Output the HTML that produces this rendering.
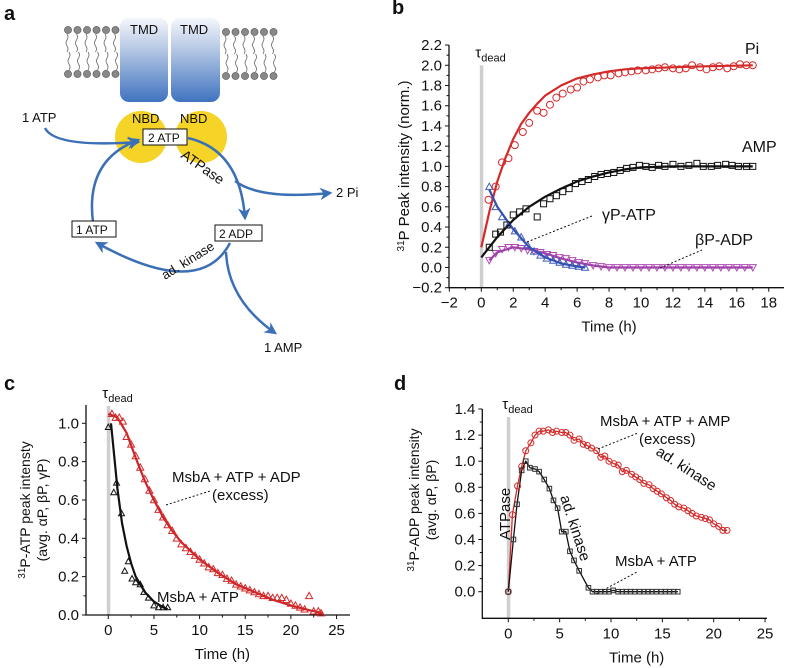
<!DOCTYPE html>
<html><head><meta charset="utf-8"><style>
html,body{margin:0;padding:0;background:#fff}
svg{display:block}
text{font-family:"Liberation Sans",sans-serif;fill:#111}
</style></head><body>
<svg id="fig" width="788" height="668" viewBox="0 0 788 668" xmlns="http://www.w3.org/2000/svg">
<defs>
<linearGradient id="tmd" x1="0" y1="0" x2="0" y2="1"><stop offset="0" stop-color="#f4f6fb"/><stop offset="0.35" stop-color="#b9cbe6"/><stop offset="1" stop-color="#3f73bf"/></linearGradient>
<marker id="ah" viewBox="0 0 10 10" refX="8" refY="5" markerWidth="5" markerHeight="5" orient="auto"><path d="M0,0 L10,5 L0,10 L3,5 z" fill="#3b6fb6"/></marker>
</defs>
<g>
<text x="4" y="20" font-size="20" font-weight="bold">a</text>
<g id="lipids"></g>
<rect x="120" y="18" width="48" height="84" rx="9" fill="url(#tmd)"/>
<rect x="171" y="18" width="49" height="84" rx="9" fill="url(#tmd)"/>
<text x="130" y="34" font-size="13">TMD</text>
<text x="180" y="34" font-size="13">TMD</text>
<circle cx="141" cy="137" r="26" fill="#f5d327"/>
<circle cx="201" cy="137" r="26" fill="#f5d327"/>
<text x="132" y="123" font-size="13">NBD</text>
<text x="180" y="123" font-size="13">NBD</text>
<g fill="none" stroke="#3b6fb6" stroke-width="2.5">
<path d="M45,128 Q55,148 138,142" marker-end="url(#ah)"/>
<path d="M93,222 Q85,160 138,140" marker-end="url(#ah)"/>
<path d="M188,138 Q240,150 245,218" marker-end="url(#ah)"/>
<path d="M235,181 Q260,200 330,193" marker-end="url(#ah)"/>
<path d="M230,243 Q200,300 97,243" marker-end="url(#ah)"/>
<path d="M226,252 Q228,300 275,333" marker-end="url(#ah)"/>
</g>
<rect x="143" y="129" width="44" height="16" fill="#fff" stroke="#111"/>
<text x="148" y="142" font-size="12">2 ATP</text>
<rect x="72" y="221" width="44" height="16" fill="#fff" stroke="#111"/>
<text x="76" y="234" font-size="12">1 ATP</text>
<rect x="215" y="225" width="47" height="16" fill="#fff" stroke="#111"/>
<text x="219" y="238" font-size="12">2 ADP</text>
<text x="22" y="122" font-size="13">1 ATP</text>
<text x="336" y="197" font-size="13">2 Pi</text>
<text x="264" y="352" font-size="13">1 AMP</text>
<text transform="translate(180,157) rotate(35)" font-size="14">ATPase</text>
<text transform="translate(165,280) rotate(-32)" font-size="13">ad. kinase</text>
</g>
<g id="pb"><text x="392" y="14" font-size="20" font-weight="bold">b</text></g>
<g id="pc"><text x="4" y="390" font-size="20" font-weight="bold">c</text></g>
<g id="pd"><text x="394" y="390" font-size="20" font-weight="bold">d</text></g>
</svg>
<script>
const piT=[0.45,0.9,1.3,1.7,2.1,2.6,3.0,3.5,3.9,4.3,4.7,5.1,5.6,6.0,6.4,6.8,7.3,7.7,8.1,8.6,9.0,9.4,9.8,10.3,10.7,11.1,11.5,12,12.4,12.8,13.2,13.7,14.1,14.5,14.9,15.4,15.8,16.2,16.6,17];
const piV=[0.67,0.80,1.04,1.08,1.21,1.34,1.43,1.55,1.53,1.61,1.68,1.72,1.76,1.78,1.84,1.86,1.88,1.90,1.90,1.92,1.93,1.94,1.95,1.95,1.96,1.97,1.98,1.97,1.96,1.97,2.00,1.98,1.96,1.98,1.99,1.97,1.99,2.01,2.00,2.00];
const piFitT=[0,0.5,1,1.5,2,2.5,3,3.5,4,5,6,7,8,9,10,12,14,17];
const piFitV=[0.2,0.55,0.85,1.08,1.27,1.42,1.53,1.62,1.70,1.80,1.87,1.91,1.94,1.96,1.97,1.98,1.99,2.0];
const ampT=[0.5,0.9,1.2,1.6,2.0,2.4,2.8,3.5,3.9,4.3,4.7,5.1,5.5,5.9,6.3,6.7,7.1,7.5,7.9,8.3,8.7,9.1,9.5,9.9,10.3,10.7,11.1,11.5,12,12.5,13,13.5,13.9,14.4,14.8,15.3,15.7,16.1,16.6,17];
const ampV=[0.2,0.33,0.35,0.42,0.52,0.55,0.58,0.50,0.63,0.68,0.71,0.75,0.78,0.83,0.85,0.87,0.90,0.92,0.93,0.94,0.96,0.98,0.99,1.01,1.0,0.99,1.01,1.0,1.02,1.0,1.01,1.03,1.0,1.0,1.01,1.02,1.01,1.0,1.0,1.0];
const ampFitT=[0,1,2,3,4,5,6,7,8,9,10,12,17];
const ampFitV=[0.1,0.3,0.47,0.6,0.7,0.78,0.85,0.9,0.94,0.97,0.99,1.0,1.0];
const gT=[0.5,0.9,1.3,1.7,2.1,2.5,2.9,3.3,3.7,4.1,4.5,4.9,5.3,5.7,6.1,6.5];
const gV=[0.8,0.6,0.5,0.42,0.36,0.3,0.22,0.16,0.12,0.09,0.07,0.05,0.03,0.02,0.01,0.0];
const gFitT=[0.5,1,2,3,4,5,6,6.5];
const gFitV=[0.77,0.6,0.38,0.2,0.1,0.04,0.01,0];
const bT=[0.5,0.9,1.3,1.7,2.1,2.5,2.9,3.3,3.7,4.1,4.5,4.9,5.3,5.7,6.1,6.5,7.0,7.5,8,8.5,9,9.5,10,10.5,11,11.5,12,12.5,13,13.5,14,14.5,15,15.5,16,16.5,17];
const bV=[0.07,0.14,0.18,0.2,0.2,0.19,0.17,0.16,0.15,0.13,0.12,0.1,0.09,0.07,0.05,0.04,0.02,0.01,0,0,0,0,0,0,0,0,0,0,0,0,0,0,0,0,0,0,0];
const bFitT=[0.5,1,2,3,4,5,6,7,8,17];
const bFitV=[0.07,0.15,0.2,0.18,0.14,0.09,0.05,0.02,0.0,0];
const bXTicks=[-2,0,2,4,6,8,10,12,14,16,18];
const bYTicks=[-0.2,0,0.2,0.4,0.6,0.8,1.0,1.2,1.4,1.6,1.8,2.0,2.2];
const cRedT=[0.4,0.8,1.2,1.6,2,2.5,3,3.5,4,4.5,5,5.5,6,6.5,7,7.5,8,8.5,9,9.5,10,10.5,11,11.5,12,12.5,13,13.5,14,14.5,15,15.5,16,16.5,17,17.5,18,18.5,19,19.5,20,20.5,21,21.5,22,22.5,23,23.3];
const cRedV=[1.05,1.03,1.03,1.01,0.93,0.89,0.83,0.77,0.71,0.65,0.6,0.55,0.51,0.47,0.44,0.40,0.37,0.35,0.33,0.31,0.29,0.27,0.25,0.24,0.22,0.21,0.19,0.18,0.16,0.15,0.14,0.13,0.12,0.11,0.10,0.10,0.09,0.09,0.09,0.08,0.06,0.05,0.04,0.03,0.10,0.02,0.02,0.01];
const cRedFitT=[0,1,2,3,4,5,6,7,8,10,12,14,16,18,20,22,23.5];
const cRedFitV=[1.05,1.03,0.95,0.82,0.7,0.6,0.51,0.44,0.38,0.29,0.22,0.16,0.12,0.08,0.05,0.025,0.01];
const cBlkT=[0,0.6,0.9,1.45,1.8,2.2,2.6,3.0,3.5,3.9,4.4,5.0,5.5,6.0,6.5];
const cBlkV=[0.98,0.64,0.69,0.53,0.23,0.28,0.19,0.17,0.16,0.12,0.09,0.05,0.04,0.04,0.04];
const cBlkFitT=[0.3,0.5,1,1.5,2,2.5,3,4,5,6,6.5];
const cBlkFitV=[1.0,0.9,0.66,0.48,0.36,0.27,0.2,0.12,0.07,0.04,0.03];
const cXTicks=[0,5,10,15,20,25];
const cYTicks=[0,0.2,0.4,0.6,0.8,1.0];
const dRedT=[0,0.4,0.9,1.3,1.7,2.2,2.6,3.0,3.4,3.9,4.3,4.7,5.2,5.6,6.0,6.4,6.9,7.3,7.7,8.1,8.6,9.0,9.4,9.8,10.3,10.7,11.1,11.5,12.0,12.4,12.8,13.2,13.7,14.1,14.5,14.9,15.4,15.8,16.2,16.6,17.1,17.5,17.9,18.3,18.8,19.2,19.6,20.0,20.5,20.9,21.3];
const dRedV=[0,0.59,0.81,0.96,1.08,1.14,1.2,1.23,1.23,1.24,1.22,1.23,1.22,1.22,1.2,1.16,1.17,1.13,1.12,1.10,1.08,1.03,1.04,1.0,0.98,0.97,0.92,0.93,0.90,0.88,0.86,0.83,0.82,0.79,0.77,0.75,0.72,0.70,0.67,0.65,0.64,0.62,0.60,0.58,0.57,0.56,0.55,0.52,0.50,0.47,0.47];
const dBlkT=[0,0.5,0.85,1.3,1.7,2.1,2.6,3.0,3.5,4.0,4.4,4.8,5.2,5.6,6.0,6.4,6.9,7.8,8.2,8.6,9.0,9.4,9.8,10.2,10.7,11.1,11.5,11.9,12.3,12.8,13.2,13.6,14.0,14.4,14.9,15.3,15.7,16.1,16.5];
const dBlkV=[0,0.4,0.67,0.93,1.0,0.95,0.94,0.92,0.86,0.79,0.7,0.64,0.46,0.46,0.31,0.24,0.16,0.03,0,0,0,0,0,0.01,0,0,0,0,0,0,0,0,0,0,0,0,0,0,0];
const dXTicks=[0,5,10,15,20,25];
const dYTicks=[0,0.2,0.4,0.6,0.8,1.0,1.2,1.4];

const NS='http://www.w3.org/2000/svg';
function mk(parent,tag,attrs,txt){const e=document.createElementNS(NS,tag);for(const k in attrs)e.setAttribute(k,attrs[k]);if(txt!==undefined)e.textContent=txt;parent.appendChild(e);return e;}
function fmt(v,d){return (v<0?'\u2212':'')+Math.abs(v).toFixed(d);}

const lip=document.getElementById('lipids');
[[68,30],[226,32]].forEach(([x0,y0])=>{for(let i=0;i<6;i++){const x=x0+i*9.5;
 [y0,y0+44].forEach(yy=>{const c=mk(lip,'circle',{cx:x,cy:yy,r:3.6,fill:'#888',stroke:'#555','stroke-width':0.6});
 
 });
 const p=mk(lip,'path',{d:`M${x-1},${y0+4} q2,3 0,6 q-2,3 0,6 q2,3 0,6 M${x+1},${y0+22} q2,3 0,6 q-2,3 0,6 q2,3 0,6`,stroke:'#666','stroke-width':0.8,fill:'none'});
 
 }});

function axes(g,o){
 const bar=mk(g,'rect',{x:o.sx(0)-1.5,y:o.deadTop,width:3.5,height:o.bottom-o.deadTop,fill:'#cfcfcf'});
 
 
 const ax=mk(g,'path',{d:`M${o.left},${o.top} V${o.bottom} H${o.right}`,stroke:'#111','stroke-width':1.3,fill:'none'});
 
 
 o.xt.forEach((t,i)=>{const x=o.sx(t);
  const tk=mk(g,'line',{x1:x,x2:x,y1:o.bottom,y2:o.bottom+4,stroke:'#111'});
  
  
  const lb=mk(g,'text',{x:x,y:o.bottom+20,'font-size':15,'text-anchor':'middle'},fmt(t,0));
  
  
  if(i<o.xt.length-1){const xm=o.sx(t+o.xm);const m=mk(g,'line',{x1:xm,x2:xm,y1:o.bottom,y2:o.bottom+2.5,stroke:'#111'});
  
  }
 });
 o.yt.forEach((v,i)=>{const y=o.sy(v);
  const tk=mk(g,'line',{x1:o.left-4,x2:o.left,y1:y,y2:y,stroke:'#111'});
  
  
  const lb=mk(g,'text',{x:o.left-7,y:y+5,'font-size':15,'text-anchor':'end'},fmt(v,1));
  
  
  if(i<o.yt.length-1){const ym=o.sy(v+0.1);const m=mk(g,'line',{x1:o.left-2.5,x2:o.left,y1:ym,y2:ym,stroke:'#111'});
  
  }
 });
 const tx=mk(g,'text',{x:(o.sx(o.xt[0])+o.sx(o.xt[o.xt.length-1]))/2,y:o.bottom+44,'font-size':15,'text-anchor':'middle'},'Time (h)');
 
 
 const td=mk(g,'text',{x:o.sx(0)-6,y:o.deadTop-8,'font-size':15});
 
 
 td.innerHTML='τ<tspan font-size="11" dy="4">dead</tspan>';
}
function line(g,sx,sy,T,V,color,w,name){
 const d=T.map((t,i)=>(i?'L':'M')+sx(t).toFixed(1)+','+sy(V[i]).toFixed(1)).join(' ');
 const p=mk(g,'path',{d:d,stroke:color,'stroke-width':w,fill:'none','stroke-linejoin':'round'});
 
 
}
function marks(g,sx,sy,T,V,shape,color,s,name){
 T.forEach((t,i)=>{const x=sx(t),y=sy(V[i]);let e;
  if(shape==='c')e=mk(g,'circle',{cx:x,cy:y,r:s,fill:'none',stroke:color,'stroke-width':1});
  else if(shape==='s')e=mk(g,'rect',{x:x-s,y:y-s,width:2*s,height:2*s,fill:'none',stroke:color,'stroke-width':1});
  else if(shape==='u')e=mk(g,'path',{d:`M${x},${y-s} L${x+s},${y+s*0.8} L${x-s},${y+s*0.8} Z`,fill:'none',stroke:color,'stroke-width':1});
  else e=mk(g,'path',{d:`M${x},${y+s} L${x+s},${y-s*0.8} L${x-s},${y-s*0.8} Z`,fill:'none',stroke:color,'stroke-width':1});
  
  
 });
}
function txt(g,x,y,s,name,size,tr){const e=mk(g,'text',{x:x,y:y,'font-size':size||14},s);if(tr)e.setAttribute('transform',tr);
 
 return e;}
function dotted(g,x1,y1,x2,y2){const e=mk(g,'line',{x1:x1,y1:y1,x2:x2,y2:y2,stroke:'#111','stroke-dasharray':'2,2','stroke-width':1});
 
 }

(function(){const g=document.getElementById('pb');
 const sx=t=>481.3+t*15.97, sy=v=>287.7-(v+0.2)*101.1;
 axes(g,{sx,sy,left:449,right:784,top:45,bottom:287.7,deadTop:sy(2.0),xt:bXTicks,yt:bYTicks,xm:1});
 line(g,sx,sy,piFitT,piFitV,'#d42a2a',2.2,'pi-fit-line');
 line(g,sx,sy,ampFitT,ampFitV,'#111',2.2,'amp-fit-line');
 marks(g,sx,sy,bT,bV,'d','#b04cb4',3.5,'bp-adp-point');
 line(g,sx,sy,bFitT,bFitV,'#a040a8',2.2,'bp-adp-fit-line');
 marks(g,sx,sy,gT,gV,'u','#3f5fbf',3.5,'gp-atp-point');
 line(g,sx,sy,gFitT,gFitV,'#3550b0',2.2,'gp-atp-fit-line');
 marks(g,sx,sy,piT,piV,'c','#d42a2a',3.5,'pi-point');
 marks(g,sx,sy,ampT,ampV,'s','#111',3,'amp-point');
 txt(g,745,54,'Pi','label-pi',16);
 txt(g,742,152,'AMP','label-amp',16);
 txt(g,602,220,'γP-ATP','label-gp-atp',16);
 txt(g,695,245,'βP-ADP','label-bp-adp',16);
 dotted(g,527,242,592,216); dotted(g,660,268,702,250);
 const yt=txt(g,0,0,'','y-axis-title',15,'translate(409,166) rotate(-90)');yt.setAttribute('text-anchor','middle');
 yt.innerHTML='<tspan font-size="10" dy="-5">31</tspan><tspan dy="5">P Peak intensity (norm.)</tspan>';
})();
(function(){const g=document.getElementById('pc');
 const sx=t=>108.3+t*9.13, sy=v=>615-v*191.7;
 axes(g,{sx,sy,left:86,right:350,top:405,bottom:615,deadTop:406,xt:cXTicks,yt:cYTicks,xm:2.5});
 line(g,sx,sy,cRedFitT,cRedFitV,'#c8262b',2.2,'red-fit-line');
 line(g,sx,sy,cBlkFitT,cBlkFitV,'#111',2.2,'black-fit-line');
 marks(g,sx,sy,cRedT,cRedV,'u','#d42a2a',3.5,'red-point');
 marks(g,sx,sy,cBlkT,cBlkV,'u','#111',3,'black-point');
 txt(g,172,482,'MsbA + ATP + ADP','label-msba-atp-adp',15);
 txt(g,212,500,'(excess)','label-excess',15);
 dotted(g,166,505,210,491);
 txt(g,157,602,'MsbA + ATP','label-msba-atp',15);
 const a=txt(g,0,0,'','y-axis-title',14,'translate(30,510) rotate(-90)');a.setAttribute('text-anchor','middle');
 a.innerHTML='<tspan font-size="10" dy="-5">31</tspan><tspan dy="5">P-ATP peak intensty</tspan>';
 const b=txt(g,0,0,'(avg. αP, βP, γP)','y-axis-title-2',14,'translate(47,510) rotate(-90)');b.setAttribute('text-anchor','middle');
})();
(function(){const g=document.getElementById('pd');
 const sx=t=>508.3+t*10.27, sy=v=>591.7-v*130.5;
 axes(g,{sx,sy,left:482.3,right:767,top:409,bottom:618.3,deadTop:417,xt:dXTicks,yt:dYTicks,xm:2.5});
 line(g,sx,sy,dRedT,dRedV,'#d42a2a',1.3,'red-line');
 line(g,sx,sy,dBlkT,dBlkV,'#111',1.3,'black-line');
 marks(g,sx,sy,dRedT,dRedV,'c','#d42a2a',3,'red-point');
 marks(g,sx,sy,dBlkT,dBlkV,'s','#333',2.3,'black-point');
 txt(g,600,426,'MsbA + ATP + AMP','label-msba-atp-amp',15);
 txt(g,639,444,'(excess)','label-excess',15);
 dotted(g,598,449,638,433);
 txt(g,655,454,'ad. kinase','label-adkinase-red',15,'rotate(33 655 454)');
 txt(g,560,497,'ad. kinase','label-adkinase-black',15,'rotate(72 560 497)');
 txt(g,0,0,'ATPase','label-atpase',15,'translate(510,540) rotate(-90)');
 txt(g,615,566,'MsbA + ATP','label-msba-atp',15);
 dotted(g,596,594,637,572);
 const a=txt(g,0,0,'','y-axis-title',14,'translate(419,500) rotate(-90)');a.setAttribute('text-anchor','middle');
 a.innerHTML='<tspan font-size="10" dy="-5">31</tspan><tspan dy="5">P-ADP peak intensity</tspan>';
 const b=txt(g,0,0,'(avg. αP, βP)','y-axis-title-2',14,'translate(436,500) rotate(-90)');b.setAttribute('text-anchor','middle');
})();
</script>
</body></html>
